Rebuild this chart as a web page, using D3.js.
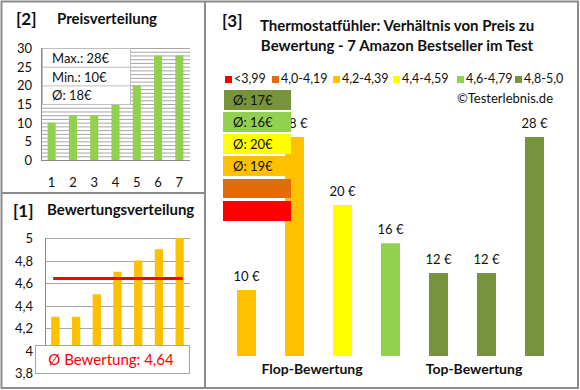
<!DOCTYPE html>
<html><head><meta charset="utf-8">
<script src="https://cdn.jsdelivr.net/npm/d3@7"></script>
<style>body{margin:0;background:#fff}svg{display:block}text{font-family:Lato,"Open Sans",sans-serif}</style>
</head><body><svg id="c" width="580" height="390"></svg>
<script>
// ---------- data ----------
const priceCats = [1,2,3,4,5,6,7];
const pricesSorted = [10,12,12,15.5,20,28,28];
const priceTicks = [0,5,10,15,20,25,30];
const priceStats = ["Max.: 28€","Min.: 10€","Ø: 18€"];

const ratingCats = [1,2,3,4,5,6,7];
const ratings = [4.3,4.3,4.5,4.7,4.8,4.9,5.0];
const ratingTicks = [3.8,4.0,4.2,4.4,4.6,4.8,5.0];
const ratingAvg = 4.64;
const ratingAvgLabel = "Ø Bewertung: 4,64";

const products = ["P1","P2","P3","P4","P5","P6","P7"];
const productPrices = [10,28,20,15.5,12,12,28];
const productRatings = [4.3,4.3,4.5,4.7,4.8,4.9,5.0];
const legendLabels = ["<3,99","4,0-4,19","4,2-4,39","4,4-4,59","4,6-4,79","4,8-5,0"];
const legendColors = ["#FF0000","#E36C09","#FFC000","#FFFF00","#92D050","#77933C"];
const groupAvgLabels = ["Ø: 17€","Ø: 16€","Ø: 20€","Ø: 19€","",""];
const groupAvgColors = ["#77933C","#92D050","#FFFF00","#FFC000","#E36C09","#FF0000"];
const mainTitle = ["Thermostatfühler: Verhältnis von Preis zu","Bewertung - 7 Amazon Bestseller im Test"];
const catLabels = ["Flop-Bewertung","Top-Bewertung"];

function ratingColor(r){
  if (r < 4.0) return legendColors[0];
  if (r < 4.2) return legendColors[1];
  if (r < 4.4) return legendColors[2];
  if (r < 4.6) return legendColors[3];
  if (r < 4.8) return legendColors[4];
  return legendColors[5];
}

const svg = d3.select("#c");
const txt = "#111";
const border = "#8c8c8c";
const grid = "#a6a6a6";

// ---------- panel borders ----------
svg.append("rect").attr("x",1.5).attr("y",1.5).attr("width",576.5).attr("height",386.5)
  .attr("fill","none").attr("stroke",border).attr("stroke-width",2);
svg.append("line").attr("x1",205).attr("x2",205).attr("y1",1).attr("y2",389).attr("stroke",border).attr("stroke-width",2);
svg.append("line").attr("x1",1).attr("x2",205).attr("y1",193).attr("y2",193).attr("stroke",border).attr("stroke-width",2);

// ---------- panel 2: Preisverteilung ----------
const g2 = svg.append("g");
g2.append("text").attr("x",16).attr("y",25).attr("font-size",17).attr("font-weight","bold").attr("fill",txt).text("[2]");
g2.append("text").attr("x",57).attr("y",24).attr("font-size",15).attr("font-weight","bold").attr("fill",txt).text("Preisverteilung");

const x2 = d3.scaleBand().domain(priceCats).range([41,190]).paddingInner(0.62).paddingOuter(0.31);
const y2 = d3.scaleLinear().domain([0,30]).range([160,48]);
g2.selectAll("line.g").data(d3.range(1,31)).join("line")
  .attr("x1",41).attr("x2",190).attr("y1",d=>y2(d)+0.5).attr("y2",d=>y2(d)+0.5)
  .attr("stroke",grid).attr("stroke-width",1);
g2.selectAll("rect.b").data(pricesSorted).join("rect")
  .attr("x",(d,i)=>x2(priceCats[i])).attr("width",x2.bandwidth())
  .attr("y",d=>y2(d)).attr("height",d=>y2(0)-y2(d)).attr("fill","#92D050");
g2.append("line").attr("x1",41.5).attr("x2",41.5).attr("y1",48).attr("y2",160.5).attr("stroke",border);
g2.append("line").attr("x1",41).attr("x2",190).attr("y1",160.5).attr("y2",160.5).attr("stroke",border);
g2.selectAll("text.yt").data(priceTicks).join("text")
  .attr("x",32).attr("y",d=>y2(d)+5).attr("text-anchor","end").attr("font-size",13).attr("fill",txt).text(d=>d);
g2.selectAll("text.xt").data(priceCats).join("text")
  .attr("x",d=>x2(d)+x2.bandwidth()/2).attr("y",187).attr("text-anchor","middle").attr("font-size",13).attr("fill",txt).text(d=>d);
// stats box
const sb = g2.append("g");
sb.append("rect").attr("x",42.5).attr("y",48.5).attr("width",88).attr("height",56).attr("fill","#fff").attr("stroke","#bfbfbf");
sb.selectAll("line").data([1,2]).join("line").attr("x1",42.5).attr("x2",130.5)
  .attr("y1",d=>48.5+d*18.7).attr("y2",d=>48.5+d*18.7).attr("stroke","#bfbfbf");
sb.selectAll("text").data(priceStats).join("text").attr("x",52).attr("y",(d,i)=>63+i*18.5)
  .attr("font-size",13).attr("fill",txt).text(d=>d);

// ---------- panel 1: Bewertungsverteilung ----------
const g1 = svg.append("g");
g1.append("text").attr("x",13).attr("y",217).attr("font-size",17).attr("font-weight","bold").attr("fill",txt).text("[1]");
g1.append("text").attr("x",47).attr("y",215).attr("font-size",15).attr("font-weight","bold").attr("fill",txt).text("Bewertungsverteilung");
const x1 = d3.scaleBand().domain(ratingCats).range([45,190]).paddingInner(0.6).paddingOuter(0.3);
const y1 = d3.scaleLinear().domain([3.8,5]).range([373,238]);
g1.selectAll("line.g").data(ratingTicks).join("line")
  .attr("x1",45).attr("x2",190).attr("y1",d=>Math.round(y1(d))+0.5).attr("y2",d=>Math.round(y1(d))+0.5)
  .attr("stroke",grid);
g1.append("line").attr("x1",45.5).attr("x2",45.5).attr("y1",238).attr("y2",373).attr("stroke",border);
g1.selectAll("rect.b").data(ratings).join("rect")
  .attr("x",(d,i)=>x1(ratingCats[i])).attr("width",x1.bandwidth())
  .attr("y",d=>y1(d)).attr("height",d=>y1(3.8)-y1(d)).attr("fill","#FFC000");
g1.append("line").attr("x1",x1(ratingCats[0])+2).attr("x2",x1(ratingCats[6])+x1.bandwidth()-1)
  .attr("y1",y1(ratingAvg)).attr("y2",y1(ratingAvg)).attr("stroke","#FF0000").attr("stroke-width",3);
g1.selectAll("text.yt").data(ratingTicks).join("text")
  .attr("x",33).attr("y",d=>y1(d)+5).attr("text-anchor","end").attr("font-size",13).attr("fill",txt)
  .text(d=>d3.format(".1f")(d).replace(".0","").replace(".",","));
g1.append("rect").attr("x",35.5).attr("y",345.5).attr("width",154).attr("height",28).attr("fill","#fff").attr("stroke","#a6a6a6");
g1.append("text").attr("x",111).attr("y",365).attr("text-anchor","middle").attr("font-size",15).attr("fill","#FF0000").text(ratingAvgLabel);

// ---------- panel 3: main ----------
const g3 = svg.append("g");
g3.append("text").attr("x",222).attr("y",27).attr("font-size",17).attr("font-weight","bold").attr("fill",txt).text("[3]");
g3.selectAll("text.t").data(mainTitle).join("text").attr("x",397).attr("y",(d,i)=>31+i*20)
  .attr("text-anchor","middle").attr("font-size",15).attr("font-weight","bold").attr("fill",txt).text(d=>d);
// legend
const legX = [225,272,333,393,457,515];
legendLabels.forEach((l,i)=>{
  g3.append("rect").attr("x",legX[i]).attr("y",76).attr("width",7).attr("height",7).attr("fill",legendColors[i]);
  g3.append("text").attr("x",legX[i]+9).attr("y",83).attr("font-size",12.5).attr("fill",txt).text(l);
});
g3.append("text").attr("x",553).attr("y",103).attr("text-anchor","end").attr("font-size",13).attr("fill",txt).text("©Testerlebnis.de");

const x3 = d3.scaleBand().domain(products).range([222.5,558.5]).paddingInner(0.604).paddingOuter(0.302);
const y3 = d3.scaleLinear().domain([2.24,30]).range([356,120]);
g3.selectAll("rect.b").data(productPrices).join("rect")
  .attr("x",(d,i)=>x3(products[i])).attr("width",x3.bandwidth())
  .attr("y",d=>y3(d)).attr("height",d=>y3(2.24)-y3(d)).attr("fill",(d,i)=>ratingColor(productRatings[i]));
g3.selectAll("text.v").data(productPrices).join("text")
  .attr("x",(d,i)=>x3(products[i])+x3.bandwidth()/2).attr("y",d=>y3(d)-9)
  .attr("text-anchor","middle").attr("font-size",13).attr("fill",txt).text(d=>Math.round(d)+" €");
// group average boxes
const boxY = [90,112,134,156,179,201];
groupAvgColors.forEach((c,i)=>{
  g3.append("rect").attr("x",i===0?224:223).attr("y",boxY[i]).attr("width",i===0?67:68).attr("height",i===4?19:20).attr("fill",c);
  if (groupAvgLabels[i]) g3.append("text").attr("x",233).attr("y",boxY[i]+15).attr("font-size",13).attr("fill",txt).text(groupAvgLabels[i]);
});
g3.selectAll("text.c").data(catLabels).join("text").attr("x",(d,i)=>i===0?312:474).attr("y",374)
  .attr("text-anchor","middle").attr("font-size",14).attr("font-weight","bold").attr("fill",txt).text(d=>d);
</script></body></html>
